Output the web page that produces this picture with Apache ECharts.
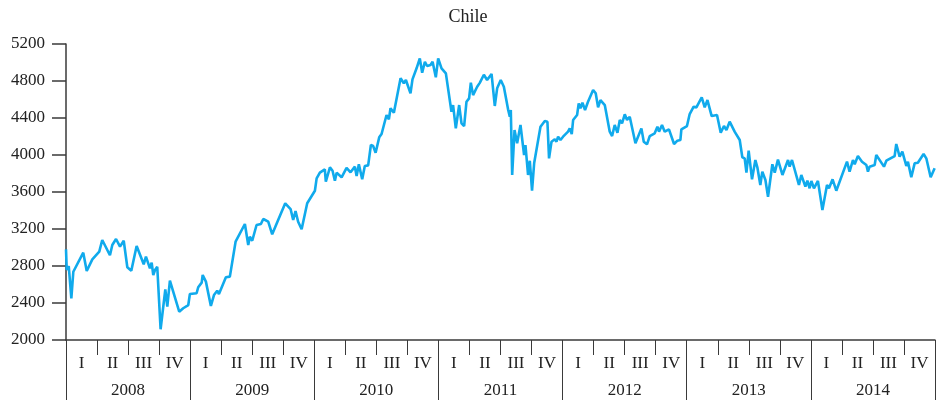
<!DOCTYPE html>
<html>
<head>
<meta charset="utf-8">
<script src="https://cdn.jsdelivr.net/npm/echarts@6/dist/echarts.min.js"></script>
<style>html,body{margin:0;padding:0;background:#fff}#c{width:936px;height:400px}</style>
</head>
<body>
<div id="c"></div>
<script>
const title = 'Chile';
const years = ['2008','2009','2010','2011','2012','2013','2014'];
const quarters = ['I','II','III','IV'];
const yTicks = [2000, 2400, 2800, 3200, 3600, 4000, 4400, 4800, 5200];
// time in years since start of 2008
const times = [
0.000,0.006,0.022,0.043,0.059,0.139,0.167,0.212,0.268,0.292,0.354,0.373,0.403,0.435,0.465,0.494,0.507,0.526,0.569,0.626,
0.644,0.676,0.690,0.703,0.717,0.735,0.762,0.800,0.816,0.837,0.912,0.944,0.985,0.998,1.052,1.065,1.093,1.101,1.127,1.167,
1.192,1.218,1.232,1.288,1.320,1.366,1.441,1.468,1.481,1.500,1.535,1.570,1.589,1.629,1.661,1.709,1.766,1.809,1.830,1.849,
1.870,1.884,1.898,1.943,2.005,2.019,2.045,2.085,2.093,2.126,2.147,2.166,2.180,2.220,2.260,2.292,2.327,2.341,2.359,2.386,
2.407,2.434,2.456,2.474,2.494,2.523,2.542,2.582,2.601,2.614,2.641,2.695,2.721,2.738,2.775,2.791,2.824,2.850,2.869,2.891,
2.909,2.936,2.953,2.979,2.998,3.025,3.060,3.105,3.118,3.140,3.167,3.186,3.207,3.226,3.247,3.261,3.279,3.312,3.333,3.366,
3.392,3.428,3.454,3.473,3.502,3.527,3.562,3.575,3.583,3.594,3.613,3.634,3.661,3.690,3.701,3.722,3.736,3.754,3.771,3.822,
3.857,3.878,3.891,3.911,3.937,3.951,3.964,3.983,4.004,4.044,4.058,4.074,4.085,4.117,4.130,4.144,4.160,4.181,4.205,4.246,
4.267,4.286,4.305,4.340,4.380,4.399,4.420,4.442,4.461,4.479,4.501,4.519,4.541,4.587,4.635,4.654,4.680,4.702,4.742,4.764,
4.777,4.801,4.823,4.857,4.898,4.925,4.949,4.957,5.002,5.024,5.056,5.078,5.121,5.145,5.167,5.201,5.244,5.274,5.300,5.320,
5.346,5.386,5.427,5.448,5.467,5.481,5.499,5.526,5.553,5.569,5.593,5.609,5.634,5.655,5.690,5.709,5.735,5.771,5.816,5.829,
5.848,5.904,5.923,5.956,5.972,5.990,6.004,6.025,6.057,6.093,6.130,6.146,6.175,6.205,6.291,6.312,6.339,6.353,6.379,6.412,
6.447,6.460,6.473,6.514,6.527,6.589,6.608,6.675,6.688,6.715,6.737,6.769,6.782,6.809,6.836,6.862,6.908,6.930,6.965,6.997
];
const values = [
2980,2757,2800,2451,2738,2944,2746,2872,2955,3081,2916,3027,3092,3009,3073,2786,2807,2749,3016,2818,
2901,2775,2836,2703,2757,2792,2116,2548,2360,2641,2306,2343,2378,2497,2505,2570,2620,2703,2631,2368,
2486,2533,2497,2678,2685,3063,3254,3027,3117,3073,3243,3254,3308,3279,3142,3297,3478,3416,3297,3394,
3279,3268,3197,3478,3614,3748,3809,3845,3711,3867,3830,3722,3809,3759,3860,3813,3874,3773,3899,3737,
3881,3888,4108,4097,4025,4191,4227,4432,4386,4505,4457,4829,4775,4811,4667,4818,4937,5045,4890,5008,
4962,4973,5008,4840,5045,4937,4882,4468,4540,4288,4540,4342,4313,4576,4612,4781,4648,4738,4780,4868,
4811,4876,4530,4721,4811,4738,4486,4414,4486,3784,4270,4126,4324,4000,4108,3784,3938,3614,3910,4306,
4367,4360,3964,4144,4170,4144,4198,4162,4198,4252,4288,4227,4378,4432,4558,4505,4565,4486,4576,4703,
4667,4515,4594,4540,4252,4205,4324,4241,4378,4342,4440,4378,4414,4126,4288,4144,4115,4205,4234,4306,
4252,4324,4252,4277,4119,4155,4162,4277,4313,4443,4522,4515,4623,4515,4594,4421,4432,4241,4313,4270,
4360,4252,4162,3975,3964,3809,4046,3737,3946,3867,3676,3820,3730,3549,3900,3810,3950,3784,3946,3874,
3946,3676,3784,3658,3722,3640,3719,3640,3719,3405,3676,3640,3737,3614,3928,3820,3946,3899,3989,3928,
3892,3820,3874,3892,4000,3874,3938,3989,4119,3982,4036,3881,3928,3759,3910,3917,4011,3964,3759,3856
];

const startYear = +years[0];
const quarterCats = [];
years.forEach(y => quarters.forEach(q => quarterCats.push(q)));
const seriesData = times.map((t, i) => [startYear + t, values[i]]);

const FONT = '"Liberation Serif", "DejaVu Serif", serif';
const AX = '#3a3a3a';
const TXT = '#222';

const chart = echarts.init(document.getElementById('c'), null, {renderer: 'canvas'});
chart.setOption({
  animation: false,
  title: {
    text: title, left: 'center', top: 3,
    textStyle: {fontFamily: FONT, fontSize: 18, fontWeight: 'normal', color: TXT}
  },
  grid: {left: 66, right: 1, top: 44, bottom: 60, containLabel: false},
  xAxis: [
    {type: 'value', min: startYear, max: startYear + years.length, show: false},
    {
      type: 'category', data: quarterCats, position: 'bottom', boundaryGap: true,
      axisLine: {show: true, onZero: false, lineStyle: {color: AX, width: 1.5}},
      axisTick: {show: true, length: 15, interval: 0, lineStyle: {color: AX, width: 1}},
      axisLabel: {interval: 0, margin: 15, fontFamily: FONT, fontSize: 17, color: TXT},
      splitLine: {show: false}
    },
    {
      type: 'category', data: years, position: 'bottom', boundaryGap: true,
      axisLine: {show: false, onZero: false},
      axisTick: {show: true, length: 62, interval: 0, lineStyle: {color: AX, width: 1}},
      axisLabel: {interval: 0, margin: 42, fontFamily: FONT, fontSize: 17, color: TXT},
      splitLine: {show: false}
    }
  ],
  yAxis: {
    type: 'value', min: yTicks[0], max: yTicks[yTicks.length - 1], interval: 400,
    axisLine: {show: true, lineStyle: {color: AX, width: 1.5}},
    axisTick: {show: true, length: 14, lineStyle: {color: AX, width: 1.5}},
    axisLabel: {margin: 21, fontFamily: FONT, fontSize: 17, color: TXT, formatter: v => String(v)},
    splitLine: {show: false}
  },
  series: [{
    type: 'line', xAxisIndex: 0, data: seriesData, showSymbol: false,
    lineStyle: {color: '#10aaec', width: 2.6}, itemStyle: {color: '#10aaec'}
  }]
});
</script>
</body>
</html>
